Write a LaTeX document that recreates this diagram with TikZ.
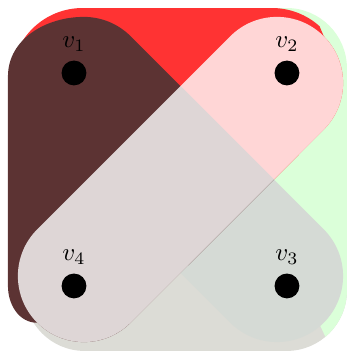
\documentclass[tikz,border=0pt]{standalone}
\usetikzlibrary{positioning}
\begin{document}
\begin{tikzpicture}[
    vertex/.style={circle, fill=black, inner sep=0pt, minimum size=0.35cm},
    band/.style={line width=1.86cm, line cap=round}
]

  % --- Color Definitions ---
  \definecolor{cred}{RGB}{255, 51, 51}    % top edge
  \definecolor{cdark}{RGB}{92, 51, 51}    % left edge
  \definecolor{cgreen}{RGB}{219, 255, 217} % right edge
  \definecolor{cbottom}{RGB}{220, 220, 214} % bottom edge
  \definecolor{cdiag}{RGB}{213, 218, 213}  % diagonal v1-v3

  \useasboundingbox (-1.042,-0.930) rectangle (3.859,4.028);

  % --- Cap centres of the diagonal edges ---
  \coordinate (a1) at (0.14,2.86);
  \coordinate (a3) at (2.86,0.14);
  \coordinate (b2) at (2.86,2.86);
  \coordinate (b4) at (0.14,0.14);

  % --- Bottom edge ---
  \fill[cbottom, rounded corners=0.85cm] (-0.7,-0.915) rectangle (3.845,1.0);

  % --- Right edge ---
  \fill[cgreen] (2.2,3.915) -- (2.995,3.915) arc[start angle=90, end angle=0, radius=0.85]
    -- (3.845,-0.065) arc[start angle=0, end angle=-50, radius=0.85] -- (2.6,1.3) -- cycle;

  % --- Diagonal v1-v3 ---
  \draw[band, cdiag] (a1) -- (a3);

  % --- Top edge ---
  \fill[cred] (-0.88,2.0) -- (-0.88,2.915) arc[start angle=180, end angle=90, radius=1.0]
    -- (2.79,3.915) arc[start angle=90, end angle=48, radius=1.0]
    -- (3.518,3.518) arc[start angle=45, end angle=-45, radius=0.93]
    -- (2.82,1.50) -- (0.5,1.5) -- cycle;

  % --- Left edge ---
  \fill[cdark] (-0.93,2.95) to[out=90, in=180] (0.14,3.79)
    arc[start angle=90, end angle=45, radius=0.93] -- (2.82,1.50) -- (0.798,-0.518)
    arc[start angle=315, end angle=225, radius=0.93] to[out=180, in=-90] (-0.93,0) -- cycle;

  % --- Diagonal v2-v4 ---
  \draw[band, white, draw opacity=0.8] (b4) -- (b2);

  % --- Vertices ---
  \foreach \n/\x/\y in {1/0/3, 2/3/3, 3/3/0, 4/0/0} {
    \node[vertex, label=above:$v_\n$] (v\n) at (\x,\y) {};
  }

\end{tikzpicture}
\end{document}
